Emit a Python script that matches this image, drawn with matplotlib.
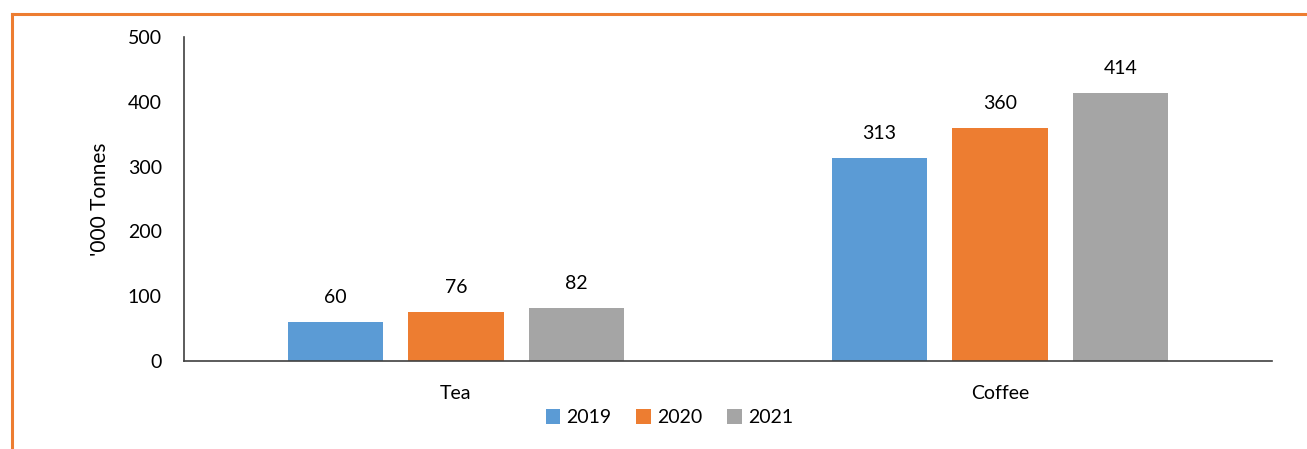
import matplotlib.pyplot as plt
import numpy as np
from matplotlib.lines import Line2D

plt.rcParams['font.family'] = ['Lato', 'DejaVu Sans']

categories = ['Tea', 'Coffee']
years = ['2019', '2020', '2021']
values = {
    '2019': [60, 313],
    '2020': [76, 360],
    '2021': [82, 414],
}
colors = ['#5B9BD5', '#ED7D31', '#A5A5A5']

W, H = 1307, 449
fig = plt.figure(figsize=(W / 100, H / 100), dpi=100)

# orange frame (left and top edges visible)
fig.add_artist(Line2D([11.5 / W, 11.5 / W], [0, 1 - 14 / H], color='#ED7D31', lw=2.2,
                      transform=fig.transFigure))
fig.add_artist(Line2D([11.5 / W, 1], [1 - 14 / H, 1 - 14 / H], color='#ED7D31', lw=2.2,
                      transform=fig.transFigure))

ax = fig.add_axes([184 / W, 1 - 361 / H, (1272 - 184) / W, (361 - 37) / H])

x = np.arange(len(categories))
width = 0.175
step = 0.222
for i, yr in enumerate(years):
    pos = x + (i - 1) * step
    bars = ax.bar(pos, values[yr], width, color=colors[i], label=yr, zorder=2)
    for b, v in zip(bars, values[yr]):
        ax.text(b.get_x() + b.get_width() / 2, v + 38, str(v), ha='center', va='center',
                fontsize=14, color='#000000')

ax.set_xlim(-0.5, 1.5)
ax.set_ylim(0, 500)
ax.set_yticks(range(0, 501, 100))
ax.set_xticks(x)
ax.set_xticklabels(categories)
ax.tick_params(axis='both', length=0, labelsize=14, colors='#000000')
ax.tick_params(axis='y', pad=16)
ax.tick_params(axis='x', pad=17)
for s in ['top', 'right']:
    ax.spines[s].set_visible(False)
for s in ['left', 'bottom']:
    ax.spines[s].set_color('#404040')
    ax.spines[s].set_linewidth(1.2)

ax.set_ylabel("'000 Tonnes", fontsize=15)
ax.yaxis.set_label_coords(-0.068, 0.5)

ax.legend(loc='center', bbox_to_anchor=(0.446, -0.175), ncol=3, frameon=False, fontsize=14,
          handlelength=0.75, handleheight=0.75, handletextpad=0.3, columnspacing=1.3)

fig.savefig('out.png', dpi=100)
